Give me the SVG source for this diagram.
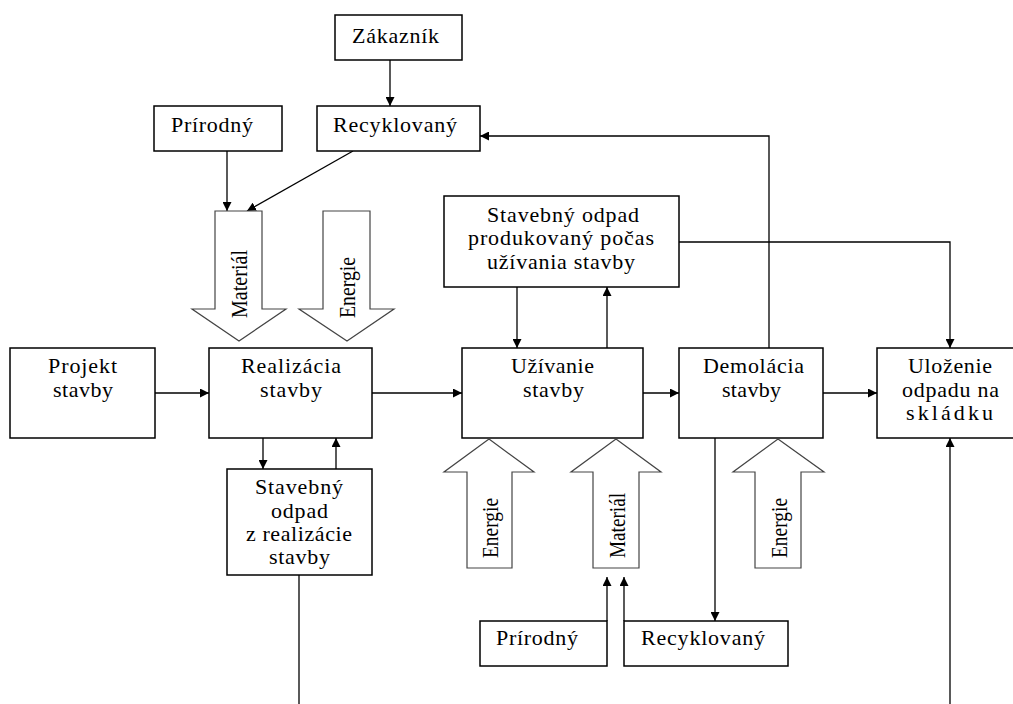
<svg xmlns="http://www.w3.org/2000/svg" width="1013" height="704" viewBox="0 0 1013 704">
<defs>
<style>
.box{fill:#fff;stroke:#000;stroke-width:1.5}
.big{fill:#fff;stroke:#444;stroke-width:1.2}
.ln{fill:none;stroke:#000;stroke-width:1.3}
.t{font-family:"Liberation Serif","Times New Roman",serif;font-size:22px;fill:#000}
.rot{font-family:"Liberation Serif","Times New Roman",serif;font-size:24px;fill:#000}
</style>
<marker id="ah" viewBox="0 0 10 10" refX="10" refY="5" markerWidth="9" markerHeight="9" markerUnits="userSpaceOnUse" orient="auto">
<path d="M0,0 L10,5 L0,10 Z" fill="#000"/>
</marker>
</defs>
<rect width="1013" height="704" fill="#fff"/>

<g id="connectors">
<line class="ln" x1="390" y1="60" x2="390" y2="106" marker-end="url(#ah)"/>
<line class="ln" x1="227" y1="151" x2="227" y2="211" marker-end="url(#ah)"/>
<line class="ln" x1="353" y1="151" x2="247" y2="211" marker-end="url(#ah)"/>
<polyline class="ln" points="769,348 769,136 480,136" marker-end="url(#ah)"/>
<polyline class="ln" points="679,242 950,242 950,348" marker-end="url(#ah)"/>
<line class="ln" x1="517" y1="287" x2="517" y2="348" marker-end="url(#ah)"/>
<line class="ln" x1="607" y1="348" x2="607" y2="287" marker-end="url(#ah)"/>
<line class="ln" x1="155" y1="393" x2="209" y2="393" marker-end="url(#ah)"/>
<line class="ln" x1="372" y1="393" x2="462" y2="393" marker-end="url(#ah)"/>
<line class="ln" x1="643" y1="393" x2="679" y2="393" marker-end="url(#ah)"/>
<line class="ln" x1="823" y1="393" x2="877" y2="393" marker-end="url(#ah)"/>
<line class="ln" x1="263" y1="438" x2="263" y2="469" marker-end="url(#ah)"/>
<line class="ln" x1="336" y1="469" x2="336" y2="438" marker-end="url(#ah)"/>
<line class="ln" x1="299" y1="575" x2="299" y2="704"/>
<line class="ln" x1="715" y1="438" x2="715" y2="621" marker-end="url(#ah)"/>
<line class="ln" x1="607" y1="621" x2="607" y2="577" marker-end="url(#ah)"/>
<line class="ln" x1="624" y1="621" x2="624" y2="577" marker-end="url(#ah)"/>
<line class="ln" x1="950" y1="704" x2="950" y2="438" marker-end="url(#ah)"/>
</g>

<g id="zakaznik">
<rect class="box" x="335" y="15" width="127" height="45"/>
<text class="t" x="352" y="43" font-size="22" textLength="87" lengthAdjust="spacing">Zákazník</text>
</g>
<g id="prirodny-top">
<rect class="box" x="154" y="106" width="128" height="45"/>
<text class="t" x="171" y="132" font-size="22" textLength="82" lengthAdjust="spacing">Prírodný</text>
</g>
<g id="recyklovany-top">
<rect class="box" x="317" y="106" width="163" height="45"/>
<text class="t" x="333" y="132" font-size="22" textLength="124" lengthAdjust="spacing">Recyklovaný</text>
</g>

<g id="material-top">
<polygon class="big" points="215,211 262,211 262,309 286,309 239,341 192,309 215,309"/>
<text class="rot" transform="translate(247,318) rotate(-90)" font-size="24" textLength="68" lengthAdjust="spacingAndGlyphs">Materiál</text>
</g>
<g id="energie-top">
<polygon class="big" points="323,211 370,211 370,309 394,309 347,341 299,309 323,309"/>
<text class="rot" transform="translate(355,318) rotate(-90)" font-size="24" textLength="61" lengthAdjust="spacingAndGlyphs">Energie</text>
</g>

<g id="odpad-uzivanie">
<rect class="box" x="444" y="196" width="235" height="91"/>
<text class="t" x="487" y="222" font-size="22" textLength="152" lengthAdjust="spacing">Stavebný odpad</text>
<text class="t" x="468" y="245" font-size="22" textLength="186" lengthAdjust="spacing">produkovaný počas</text>
<text class="t" x="487" y="269" font-size="22" textLength="148" lengthAdjust="spacing">užívania stavby</text>
</g>

<g id="projekt">
<rect class="box" x="10" y="348" width="145" height="90"/>
<text class="t" x="48" y="373" font-size="22" textLength="69" lengthAdjust="spacing">Projekt</text>
<text class="t" x="53" y="397" font-size="22" textLength="60" lengthAdjust="spacing">stavby</text>
</g>
<g id="realizacia">
<rect class="box" x="209" y="348" width="163" height="90"/>
<text class="t" x="241" y="373" font-size="22" textLength="100" lengthAdjust="spacing">Realizácia</text>
<text class="t" x="260" y="397" font-size="22" textLength="62" lengthAdjust="spacing">stavby</text>
</g>
<g id="uzivanie">
<rect class="box" x="462" y="348" width="181" height="90"/>
<text class="t" x="511" y="373" font-size="22" textLength="83" lengthAdjust="spacing">Užívanie</text>
<text class="t" x="523" y="397" font-size="22" textLength="61" lengthAdjust="spacing">stavby</text>
</g>
<g id="demolacia">
<rect class="box" x="679" y="348" width="144" height="90"/>
<text class="t" x="703" y="373" font-size="22" textLength="101" lengthAdjust="spacing">Demolácia</text>
<text class="t" x="722" y="397" font-size="22" textLength="59" lengthAdjust="spacing">stavby</text>
</g>
<g id="ulozenie">
<rect class="box" x="877" y="348" width="145" height="90"/>
<text class="t" x="908" y="373" font-size="22" textLength="84" lengthAdjust="spacing">Uloženie</text>
<text class="t" x="902" y="397" font-size="22" textLength="97" lengthAdjust="spacing">odpadu na</text>
<text class="t" x="906" y="420" font-size="22" textLength="87" lengthAdjust="spacing">skládku</text>
</g>
<g id="odpad-realizacia">
<rect class="box" x="227" y="469" width="145" height="106"/>
<text class="t" x="255" y="494" font-size="22" textLength="88" lengthAdjust="spacing">Stavebný</text>
<text class="t" x="271" y="518" font-size="22" textLength="57" lengthAdjust="spacing">odpad</text>
<text class="t" x="246" y="541" font-size="22" textLength="106" lengthAdjust="spacing">z realizácie</text>
<text class="t" x="269" y="564" font-size="22" textLength="61" lengthAdjust="spacing">stavby</text>
</g>

<g id="energie-1">
<polygon class="big" points="467,568 512,568 512,472 534,472 489,439 444,472 467,472"/>
<text class="rot" transform="translate(498,558) rotate(-90)" font-size="24" textLength="60" lengthAdjust="spacingAndGlyphs">Energie</text>
</g>
<g id="material-bottom">
<polygon class="big" points="593,568 639,568 639,472 661,472 616,439 571,472 593,472"/>
<text class="rot" transform="translate(624.5,558) rotate(-90)" font-size="24" textLength="65" lengthAdjust="spacingAndGlyphs">Materiál</text>
</g>
<g id="energie-2">
<polygon class="big" points="755,568 801,568 801,472 824,472 778,439 733,472 755,472"/>
<text class="rot" transform="translate(786.5,558) rotate(-90)" font-size="24" textLength="60" lengthAdjust="spacingAndGlyphs">Energie</text>
</g>

<g id="prirodny-bottom">
<rect class="box" x="480" y="621" width="127" height="45"/>
<text class="t" x="496" y="645" font-size="22" textLength="82" lengthAdjust="spacing">Prírodný</text>
</g>
<g id="recyklovany-bottom">
<rect class="box" x="624" y="621" width="164" height="45"/>
<text class="t" x="641" y="645" font-size="22" textLength="124" lengthAdjust="spacing">Recyklovaný</text>
</g>
</svg>
